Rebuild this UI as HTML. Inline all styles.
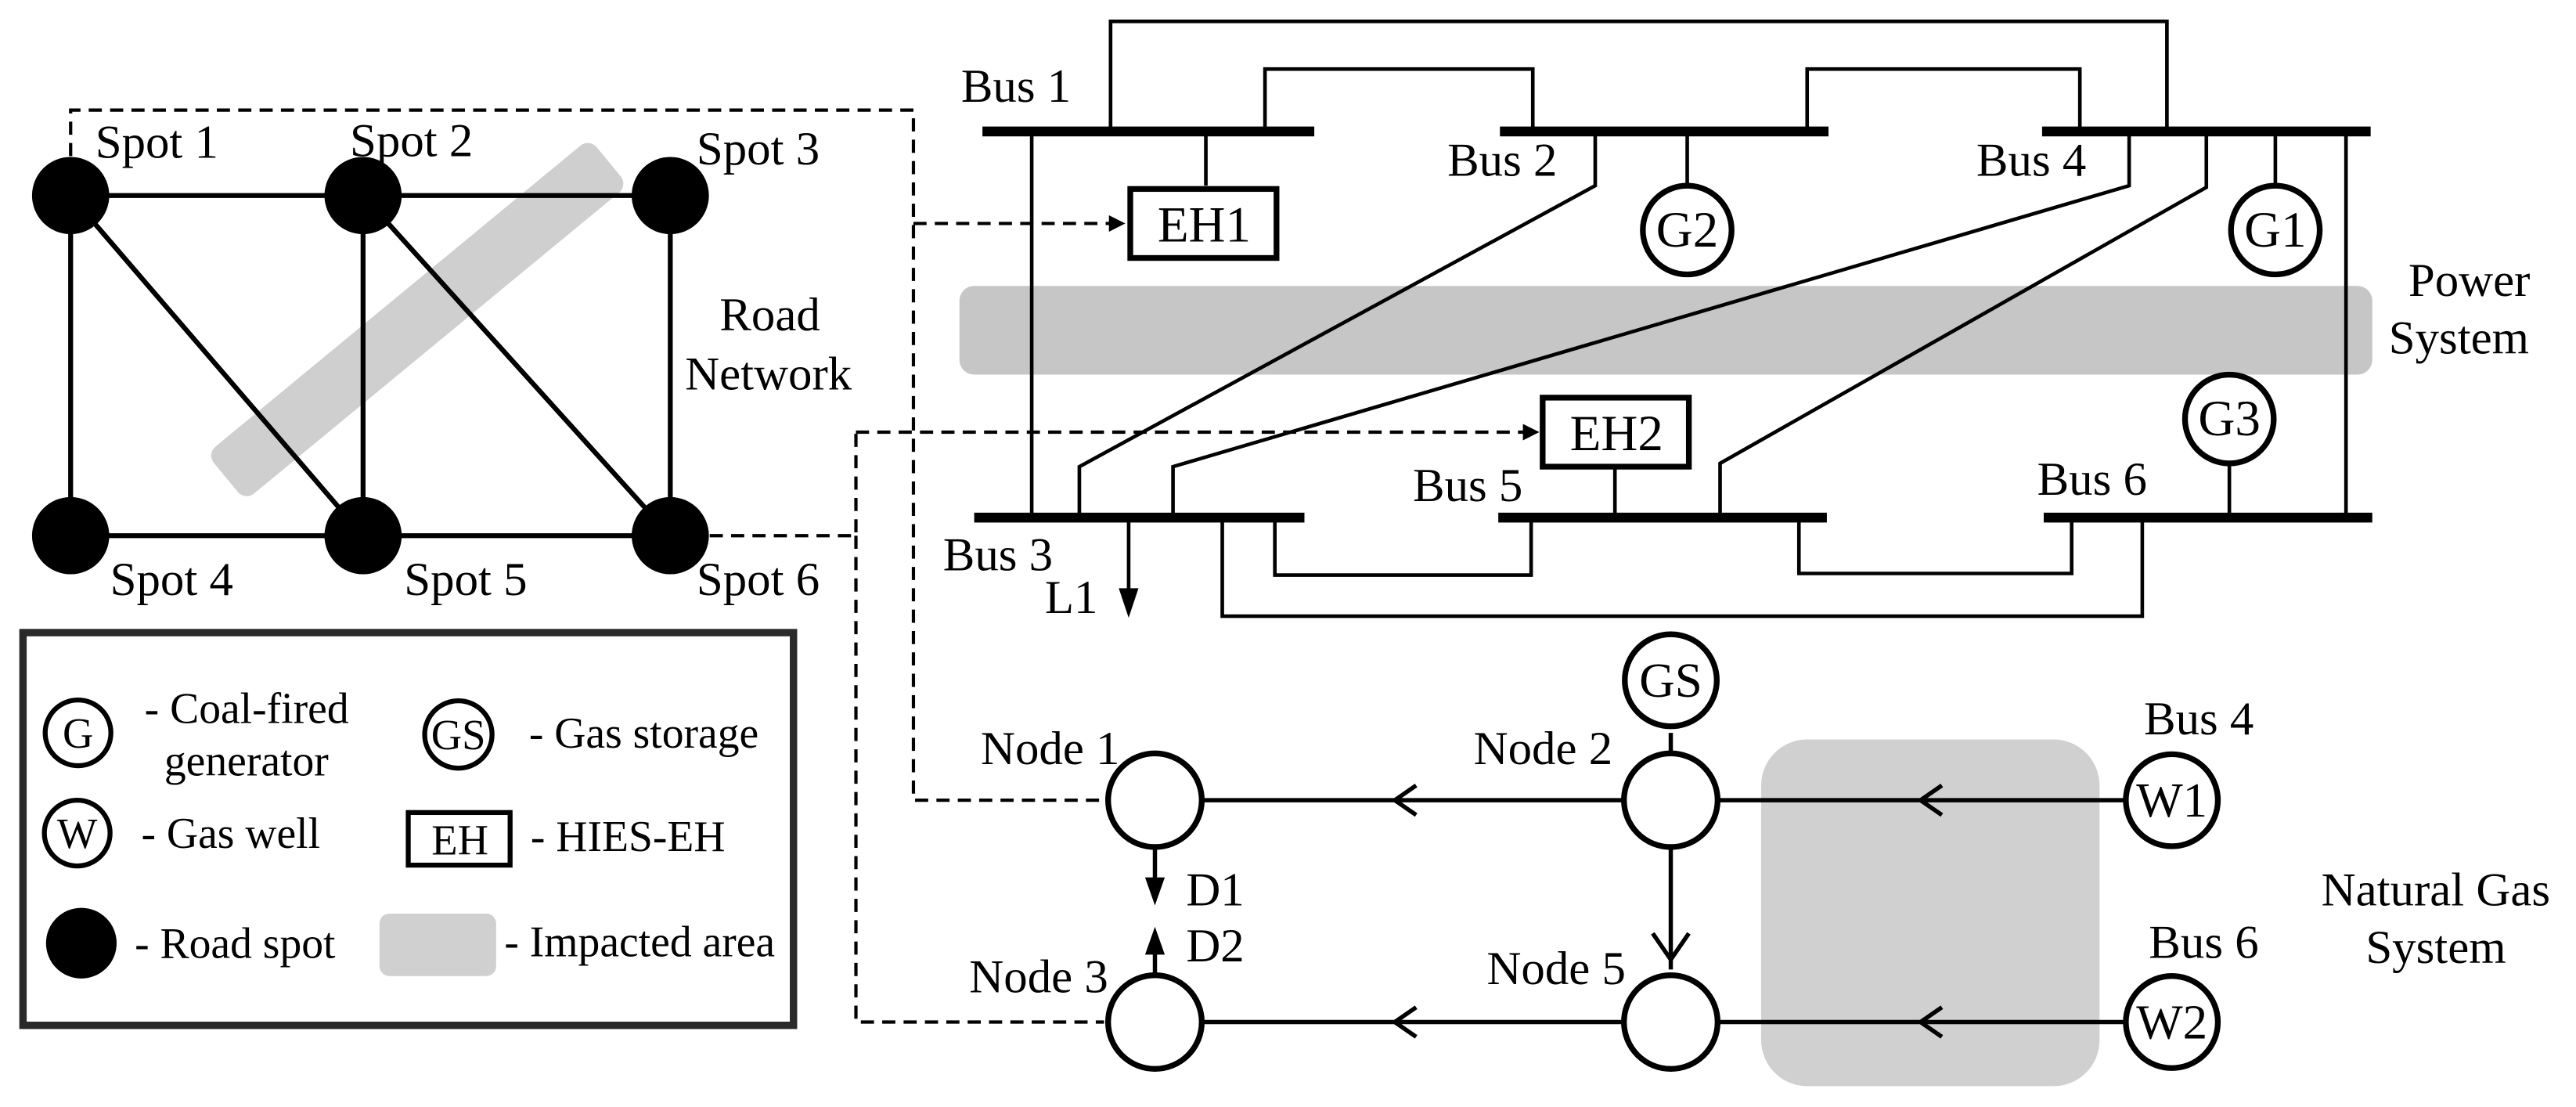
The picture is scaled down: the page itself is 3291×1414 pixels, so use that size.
<!DOCTYPE html>
<html><head><meta charset="utf-8"><style>
html,body{margin:0;padding:0;background:#fff;}
svg{display:block;}
text{font-family:"Liberation Serif","Times New Roman","DejaVu Serif",serif;fill:#000;}
</style></head><body>
<svg width="3291" height="1414" viewBox="0 0 1568 673.7" preserveAspectRatio="none" xmlns="http://www.w3.org/2000/svg" font-family="'Liberation Serif', 'Times New Roman', 'DejaVu Serif', serif">
<defs>
<marker id="ah" markerWidth="10" markerHeight="10" refX="9" refY="5" orient="auto" markerUnits="userSpaceOnUse"><path d="M0,0 L10,5 L0,10 z" fill="#000"/></marker>
</defs>
<rect x="-151" y="-18.5" width="302" height="37" rx="7" fill="#cfcfcf" transform="translate(254,194.5) rotate(-39.5)"/>
<rect x="584" y="174" width="860" height="54" rx="9" fill="#c6c6c6"/>
<rect x="1072" y="450" width="206" height="211" rx="28" fill="#d0d0d0"/>

<g stroke="#000" stroke-width="3" fill="none">
<line x1="43" y1="119" x2="408" y2="119"/>
<line x1="43" y1="326" x2="408" y2="326"/>
<line x1="43" y1="119" x2="43" y2="326"/>
<line x1="221" y1="119" x2="221" y2="326"/>
<line x1="408" y1="119" x2="408" y2="326"/>
<line x1="43" y1="119" x2="221" y2="326"/>
<line x1="221" y1="119" x2="408" y2="326"/>
</g>
<g fill="#000">
<circle cx="43" cy="119" r="23.5"/><circle cx="221" cy="119" r="23.5"/><circle cx="408" cy="119" r="23.5"/>
<circle cx="43" cy="326" r="23.5"/><circle cx="221" cy="326" r="23.5"/><circle cx="408" cy="326" r="23.5"/>
</g>
<g font-size="29">
<text x="58" y="96">Spot 1</text><text x="213" y="95">Spot 2</text><text x="424" y="100">Spot 3</text>
<text x="67" y="362">Spot 4</text><text x="246" y="362">Spot 5</text><text x="424" y="362">Spot 6</text>
<text x="438" y="201">Road</text><text x="417" y="237">Network</text>
</g>

<g stroke="#000" stroke-width="2" fill="none" stroke-dasharray="8,5">
<polyline points="43,95 43,67 556,67 556,487 672,487"/>
<line x1="556" y1="136" x2="684" y2="136" marker-end="url(#ah)"/>
<polyline points="432,326 521,326 521,263"/>
<line x1="521" y1="263" x2="936" y2="263" marker-end="url(#ah)"/>
<polyline points="521,326 521,622 672,622"/>
</g>

<g stroke="#000" stroke-width="2.2" fill="none">
<polyline points="676,80 676,13 1319,13 1319,80"/>
<polyline points="770,80 770,42 933,42 933,80"/>
<polyline points="1100,80 1100,42 1266,42 1266,80"/>
<line x1="628" y1="80" x2="628" y2="315"/>
<line x1="1428" y1="80" x2="1428" y2="315"/>
<line x1="734" y1="80" x2="734" y2="113"/>
<line x1="1027" y1="80" x2="1027" y2="113"/>
<line x1="1385" y1="80" x2="1385" y2="113"/>
<line x1="1357" y1="282" x2="1357" y2="315"/>
<line x1="983" y1="285" x2="983" y2="315"/>
<polyline points="971,80 971,113 657,284 657,315"/>
<polyline points="1296,80 1296,113 714,284 714,315"/>
<polyline points="1343,80 1343,114 1047,282 1047,315"/>
<polyline points="776,315 776,350 932,350 932,315"/>
<polyline points="1095,315 1095,349 1261,349 1261,315"/>
<polyline points="744,315 744,375 1304,375 1304,315"/>
<line x1="687" y1="315" x2="687" y2="360"/>
</g>
<path d="M681,358 L693,358 L687,376 z" fill="#000"/>
<g fill="#000">
<rect x="598" y="77" width="202" height="6"/>
<rect x="913" y="77" width="200" height="6"/>
<rect x="1243" y="77" width="200" height="6"/>
<rect x="593" y="312" width="201" height="6"/>
<rect x="912" y="312" width="200" height="6"/>
<rect x="1244" y="312" width="200" height="6"/>
</g>
<rect x="688" y="115" width="89" height="42" fill="#fff" stroke="#000" stroke-width="3.5"/>
<rect x="939" y="242" width="89" height="42" fill="#fff" stroke="#000" stroke-width="3.5"/>
<g fill="#fff" stroke="#000" stroke-width="3.5">
<circle cx="1027" cy="140" r="27"/><circle cx="1385" cy="140" r="27"/><circle cx="1357" cy="255" r="27"/>
</g>
<g font-size="31" text-anchor="middle">
<text x="733" y="147">EH1</text><text x="984" y="274">EH2</text>
<text x="1027" y="150">G2</text><text x="1385" y="150">G1</text><text x="1357" y="265">G3</text>
</g>
<g font-size="29">
<text x="585" y="62">Bus 1</text><text x="881" y="107">Bus 2</text><text x="1203" y="107">Bus 4</text>
<text x="574" y="347">Bus 3</text><text x="860" y="305">Bus 5</text><text x="1240" y="301">Bus 6</text>
<text x="636" y="373">L1</text>
<text x="1466" y="180">Power</text><text x="1454" y="215">System</text>
</g>

<g stroke="#000" stroke-width="2.6" fill="none">
<line x1="703" y1="487" x2="1322" y2="487"/>
<line x1="703" y1="622" x2="1322" y2="622"/>
<line x1="1017" y1="446" x2="1017" y2="590"/>
<polyline points="862,478 849,487 862,496"/>
<polyline points="1182,478 1169,487 1182,496"/>
<polyline points="862,613 849,622 862,631"/>
<polyline points="1182,613 1169,622 1182,631"/>
<polyline points="1006,568 1017,584 1028,568"/>
<line x1="703" y1="515" x2="703" y2="536"/>
<line x1="703" y1="594" x2="703" y2="578"/>
</g>
<path d="M697,534 L709,534 L703,551 z" fill="#000"/>
<path d="M697,581 L709,581 L703,564 z" fill="#000"/>
<g fill="#fff" stroke="#000" stroke-width="3.5">
<circle cx="703" cy="487" r="28.5"/><circle cx="1017" cy="487" r="28.5"/><circle cx="1322" cy="487" r="28"/>
<circle cx="703" cy="622" r="28.5"/><circle cx="1017" cy="622" r="28.5"/><circle cx="1322" cy="622" r="28"/>
<circle cx="1017" cy="414" r="28"/>
</g>
<g font-size="30" text-anchor="middle">
<text x="1322" y="497">W1</text><text x="1322" y="632">W2</text><text x="1017" y="424">GS</text>
</g>
<g font-size="29">
<text x="597" y="465">Node 1</text><text x="897" y="465">Node 2</text>
<text x="590" y="604">Node 3</text><text x="905" y="599">Node 5</text>
<text x="1305" y="447">Bus 4</text><text x="1308" y="583">Bus 6</text>
<text x="722" y="551">D1</text><text x="722" y="585">D2</text>
<text x="1413" y="551">Natural Gas</text><text x="1440" y="586">System</text>
</g>

<rect x="14" y="385" width="469" height="239" fill="#fff" stroke="#2a2a2a" stroke-width="4.5"/>
<g fill="#fff" stroke="#000" stroke-width="3">
<circle cx="47.5" cy="446" r="20"/><circle cx="279" cy="447" r="20.5"/><circle cx="47" cy="507" r="20"/>
</g>
<rect x="248.5" y="494.5" width="62" height="32" fill="#fff" stroke="#000" stroke-width="3"/>
<circle cx="49.5" cy="574" r="21.5" fill="#000"/>
<rect x="231" y="556" width="71" height="38" rx="6" fill="#d0d0d0"/>
<g font-size="26" text-anchor="middle">
<text x="47.5" y="455">G</text><text x="279" y="456">GS</text><text x="47" y="516">W</text><text x="280" y="520">EH</text>
</g>
<g font-size="26.5">
<text x="88" y="440">- Coal-fired</text><text x="100" y="472">generator</text>
<text x="322" y="455">- Gas storage</text>
<text x="86" y="516">- Gas well</text>
<text x="323" y="518">- HIES-EH</text>
<text x="82" y="583">- Road spot</text>
<text x="307" y="582">- Impacted area</text>
</g>
</svg>
</body></html>
